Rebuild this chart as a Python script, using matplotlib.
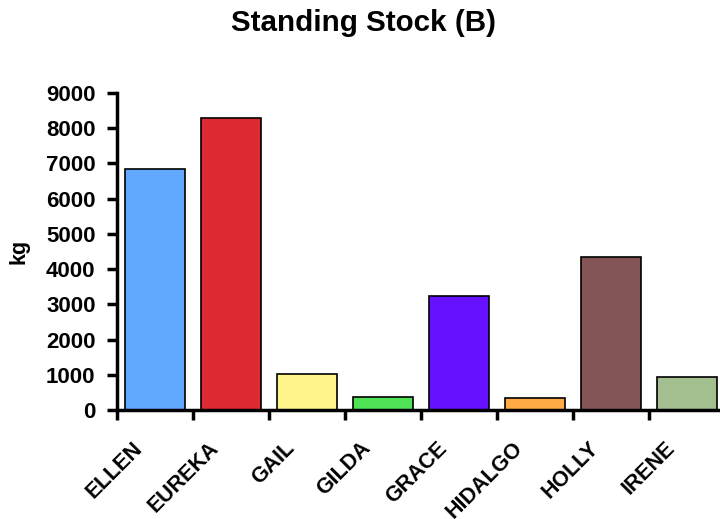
import matplotlib
matplotlib.use('Agg')
import matplotlib.pyplot as plt
import numpy as np

plt.rcParams['font.family'] = ['Liberation Sans', 'DejaVu Sans']
plt.rcParams['font.weight'] = 'bold'

# data
storms = ['ELLEN', 'EUREKA', 'GAIL', 'GILDA', 'GRACE', 'HIDALGO', 'HOLLY', 'IRENE']
stock_kg = [6850, 8290, 1030, 380, 3240, 345, 4340, 940]
colors = ['#62A8FF', '#DE2B33', '#FFF38C', '#4FE255', '#6611FF', '#FFA947', '#845557', '#A3BE8F']

fig = plt.figure(figsize=(7.2, 5.19), dpi=100)
ax = fig.add_axes([0.1625, 0.21, 0.8444, 0.6108])

x = np.arange(len(storms))
ax.bar(x, stock_kg, width=0.78, color=colors, edgecolor='black', linewidth=1.2)

ax.set_xlim(-0.5, len(storms) - 0.5)
ax.set_ylim(0, 9000)
ax.set_yticks(np.arange(0, 9001, 1000))
ax.tick_params(axis='y', labelsize=16, length=7, width=2.5, direction='out', pad=8.5)

# x ticks sit on category boundaries, labels in between
ax.set_xticks(np.arange(-0.5, len(storms), 1.0))
ax.set_xticklabels([])
ax.tick_params(axis='x', length=7, width=2.5, direction='out')
for i, name in enumerate(storms):
    ax.text(i - 0.30, -790, name, rotation=45, ha='right', va='top',
            rotation_mode='anchor', fontsize=15.5, fontweight='bold')

for s in ['top', 'right']:
    ax.spines[s].set_visible(False)
for s in ['left', 'bottom']:
    ax.spines[s].set_linewidth(2.5)

ax.set_ylabel('kg', fontsize=15.5, fontweight='bold', labelpad=12)
fig.text(0.505, 0.956, 'Standing Stock (B)', ha='center', va='center',
         fontsize=21.3, fontweight='bold')

fig.savefig('out.png', dpi=100)
